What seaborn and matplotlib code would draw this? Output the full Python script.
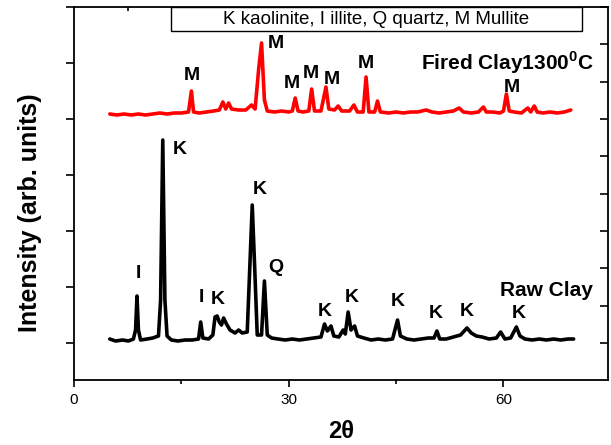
import numpy as np
import pandas as pd
import matplotlib
matplotlib.use("Agg")
import matplotlib.pyplot as plt
from matplotlib.patches import Rectangle
from matplotlib.ticker import FixedLocator, NullFormatter
import seaborn as sns

# ---- data ----
raw_2theta = [5.0, 5.8, 6.8, 7.6, 8.3, 8.6, 8.8, 9.0, 9.3, 10.2, 11.0, 11.8, 12.1, 12.4, 12.7,
              13.0, 13.6, 14.5, 15.5, 16.5, 17.4, 17.7, 18.0, 18.8, 19.4, 19.7, 20.0, 20.3,
              20.6, 20.9, 21.3, 21.8, 22.5, 23.0, 23.5, 24.2, 24.6, 24.9, 25.2, 25.6, 26.2,
              26.6, 27.0, 27.6, 28.5, 29.5, 30.5, 31.5, 32.5, 33.5, 34.5, 35.0, 35.4, 35.9,
              36.3, 37.0, 37.6, 37.9, 38.3, 38.7, 39.2, 39.6, 40.5, 41.5, 42.5, 43.5, 44.5,
              45.2, 45.6, 46.5, 47.5, 48.5, 49.5, 50.3, 50.7, 51.1, 52.0, 53.0, 54.0, 54.9,
              55.5, 56.2, 57.0, 58.0, 59.0, 59.6, 60.2, 61.0, 61.8, 62.3, 63.0, 64.0, 65.0,
              66.0, 67.0, 68.0, 69.0, 69.8]
raw_intensity = [410, 390, 400, 390, 410, 500, 840, 500, 400, 410, 420, 440, 800, 2400, 800,
                 440, 400, 390, 400, 400, 410, 580, 420, 410, 450, 630, 640, 580,
                 550, 620, 560, 500, 470, 500, 470, 480, 1200, 1750, 1200, 450, 450,
                 990, 450, 420, 410, 400, 410, 400, 410, 420, 430, 560, 490, 540,
                 440, 430, 500, 460, 680, 500, 540, 440, 420, 400, 410, 400, 410,
                 600, 440, 410, 400, 410, 420, 420, 490, 410, 410, 430, 450, 520,
                 470, 440, 430, 410, 420, 480, 410, 420, 530, 440, 410, 400, 410,
                 400, 410, 400, 410, 410]

fired_2theta = [5.0, 6.0, 7.0, 8.0, 9.0, 10.0, 11.0, 12.0, 13.0, 14.0, 15.0, 16.0, 16.4, 16.7,
                17.5, 18.5, 19.5, 20.3, 20.8, 21.2, 21.6, 22.0, 23.0, 24.0, 24.8, 25.3, 25.8,
                26.2, 26.6, 27.0, 28.0, 29.0, 30.0, 30.5, 30.9, 31.3, 32.0, 32.8, 33.2, 33.6,
                34.5, 35.2, 35.6, 36.4, 36.9, 37.4, 38.5, 39.1, 39.6, 40.4, 40.8, 41.2, 42.0,
                42.4, 42.8, 44.0, 45.0, 46.0, 47.0, 48.0, 49.2, 50.0, 51.0, 52.0, 53.0, 53.8,
                54.4, 55.5, 56.5, 57.2, 57.6, 58.5, 59.5, 60.0, 60.4, 60.8, 61.5, 62.5, 63.4,
                63.8, 64.3, 64.7, 65.5, 66.5, 67.5, 68.5, 69.4]
fired_intensity = [2660, 2650, 2660, 2650, 2660, 2650, 2660, 2670, 2660, 2670, 2670, 2680, 2890, 2680,
                   2670, 2680, 2690, 2700, 2780, 2710, 2770, 2710, 2700, 2700, 2750, 2710, 3110,
                   3370, 2800, 2690, 2680, 2690, 2680, 2690, 2820, 2690, 2680, 2690, 2910, 2690,
                   2690, 2930, 2710, 2700, 2740, 2690, 2690, 2750, 2680, 2680, 3030, 2680, 2680,
                   2790, 2680, 2670, 2680, 2670, 2680, 2680, 2700, 2680, 2670, 2680, 2690, 2720,
                   2680, 2670, 2680, 2730, 2680, 2680, 2670, 2690, 2860, 2690, 2680, 2670, 2720,
                   2680, 2740, 2680, 2670, 2680, 2670, 2680, 2700]

raw_labels = ["I", "K", "I", "K", "K", "Q", "K", "K", "K", "K", "K", "K"]
raw_label_x = [9.05, 14.76, 17.82, 20.05, 25.9, 28.26, 35.08, 38.84, 45.25, 50.54, 54.85, 62.09]
raw_label_y = [1070, 2310, 830, 800, 1910, 1130, 680, 830, 780, 670, 690, 670]

fired_labels = ["M", "M", "M", "M", "M", "M", "M"]
fired_label_x = [16.43, 28.26, 30.49, 33.13, 36.06, 40.79, 61.12]
fired_label_y = [3050, 3370, 2970, 3070, 3010, 3170, 2930]

legend_text = "K kaolinite, I illite, Q quartz, M Mullite"
x_ticks = [0, 30, 60]

# ---- figure ----
sns.set_style("ticks")
plt.rcParams['font.family'] = ['Liberation Sans', 'DejaVu Sans']
plt.rcParams['mathtext.fontset'] = 'custom'
plt.rcParams['mathtext.rm'] = 'Liberation Sans'
plt.rcParams['mathtext.bf'] = 'Liberation Sans:bold'
for key in ['text.color', 'axes.labelcolor', 'xtick.color', 'ytick.color', 'axes.edgecolor']:
    plt.rcParams[key] = 'black'

fig = plt.figure(figsize=(6.11, 4.45), dpi=100)
ax = fig.add_axes([74 / 611, 65 / 445, (608 - 74) / 611, (380 - 7) / 445])

df_raw = pd.DataFrame({"2theta": raw_2theta, "I": raw_intensity})
df_fired = pd.DataFrame({"2theta": fired_2theta, "I": fired_intensity})
sns.lineplot(data=df_raw, x="2theta", y="I", ax=ax, color="black", lw=2.6,
             sort=False, estimator=None)
sns.lineplot(data=df_fired, x="2theta", y="I", ax=ax, color="#ff0000", lw=2.6,
             sort=False, estimator=None)

ax.set_xlim(0, 74.6)
ax.set_ylim(0, 3730)

for s in ax.spines.values():
    s.set_linewidth(1.3)
    s.set_color("black")

ax.set_xticks(x_ticks)
ax.set_xticklabels([str(t) for t in x_ticks])
ax.xaxis.set_minor_locator(FixedLocator([15, 45]))
ax.tick_params(axis='x', which='major', direction='out', length=5, width=1.2,
               labelsize=11, pad=4, colors='black')
ax.tick_params(axis='x', which='minor', direction='out', length=3, width=1.2, colors='black')
ax.set_yticks([370 + 560 * k for k in range(7)])
ax.set_yticklabels([])
ax.tick_params(axis='y', which='major', direction='out', length=6, width=1.2, colors='black')

# top axis ticks
axt = ax.secondary_xaxis('top')
axt.set_xticks([7.5 * k for k in range(1, 10)])
axt.tick_params(direction='in', length=3, width=1.2, labeltop=False, colors='black')
axt.xaxis.set_major_formatter(NullFormatter())
axt.spines['top'].set_visible(False)

# right axis ticks
axr = ax.secondary_yaxis('right')
axr.set_yticks([370 + 373.3 * k for k in range(10)])
axr.tick_params(direction='in', length=6, width=1.2, colors='black')
axr.yaxis.set_major_formatter(NullFormatter())
axr.spines['right'].set_visible(False)

ax.set_xlabel("2θ", fontsize=17, fontweight='bold', color='black')
ax.xaxis.set_label_coords(0.5, (380 - 432) / 373)
ax.xaxis.label.set_va('center')
ax.set_ylabel("Intensity (arb. units)", fontsize=18, fontweight='bold', color='black',
              family=['Liberation Sans Narrow', 'Liberation Sans'])
ax.yaxis.set_label_coords((30 - 74) / 534, (380 - 213) / 373)
ax.yaxis.label.set_va('center')

for t, x, y in zip(raw_labels, raw_label_x, raw_label_y):
    ax.text(x, y, t, fontsize=14, fontweight='bold', ha='center', va='center', color='black')
for t, x, y in zip(fired_labels, fired_label_x, fired_label_y):
    ax.text(x, y, t, fontsize=14, fontweight='bold', ha='center', va='center', color='black')

ax.text(65.99, 890, "Raw Clay", fontsize=15, fontweight='bold', ha='center', va='center',
        color='black')
ax.text(60.56, 3170, r"Fired Clay1300$^{\mathbf{0}}$C", fontsize=15, fontweight='bold',
        ha='center', va='center', color='black')

# legend box
x0 = (171 - 74) / (608 - 74)
x1 = (582 - 74) / (608 - 74)
y0 = (380 - 31) / (380 - 7)
ax.add_patch(Rectangle((x0, y0), x1 - x0, 1 - y0, transform=ax.transAxes,
                       facecolor='white', edgecolor='black', lw=1.0, zorder=5))
ax.text((x0 + x1) / 2, (y0 + 1) / 2, legend_text, transform=ax.transAxes,
        fontsize=13.5, ha='center', va='center', zorder=6, color='black')

fig.savefig("out.png", dpi=100)
